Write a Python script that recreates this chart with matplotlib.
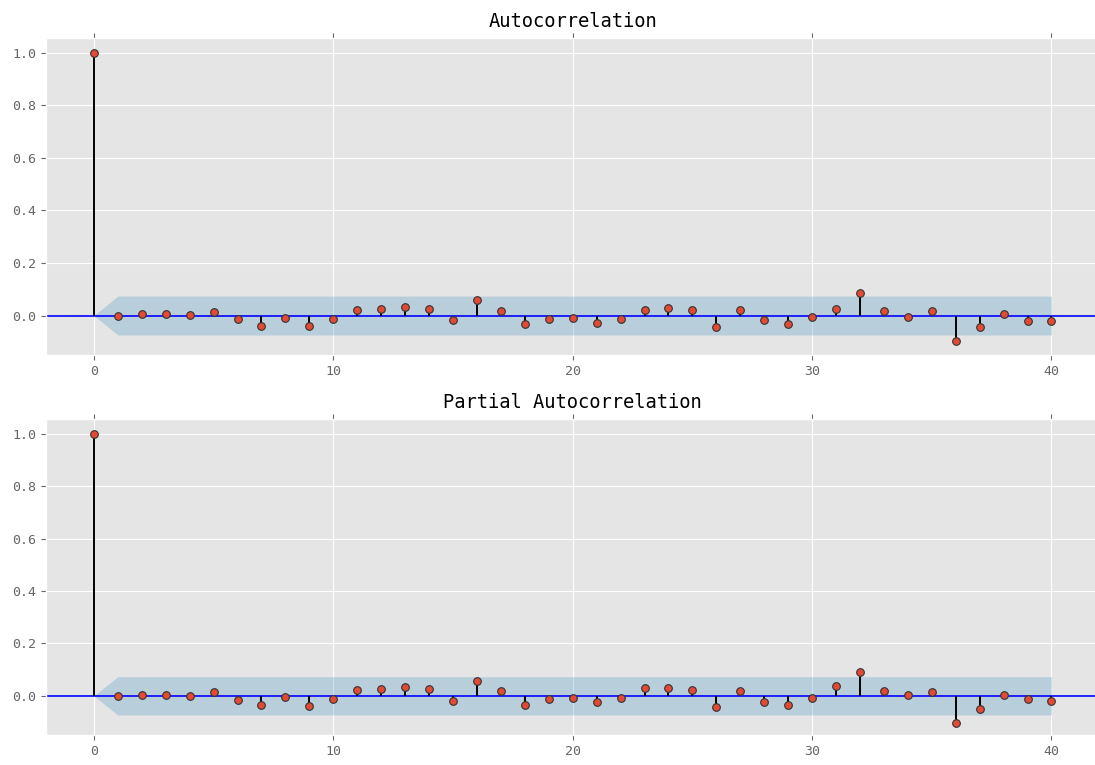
import numpy as np
import matplotlib
matplotlib.use("Agg")
import matplotlib.pyplot as plt

plt.style.use("ggplot")
plt.rcParams['font.family'] = ['DejaVu Sans Mono', 'DejaVu Sans']

lags = np.arange(41)

# autocorrelation values
acf_vals = [1.0, 0.000, 0.004, 0.004, 0.001, 0.013, -0.014, -0.039, -0.009, -0.039,
            -0.013, 0.021, 0.025, 0.034, 0.025, -0.018, 0.059, 0.016, -0.034, -0.014,
            -0.009, -0.029, -0.013, 0.021, 0.030, 0.021, -0.043, 0.021, -0.018, -0.034,
            -0.005, 0.025, 0.086, 0.016, -0.005, 0.016, -0.095, -0.043, 0.005, -0.020,
            -0.020]

# partial autocorrelation values
pacf_vals = [1.0, 0.000, 0.005, 0.004, 0.001, 0.013, -0.014, -0.034, -0.005, -0.039,
             -0.013, 0.022, 0.025, 0.034, 0.025, -0.018, 0.056, 0.017, -0.034, -0.013,
             -0.009, -0.025, -0.008, 0.030, 0.030, 0.021, -0.043, 0.018, -0.025, -0.034,
             -0.009, 0.036, 0.092, 0.018, 0.005, 0.014, -0.103, -0.052, 0.005, -0.013,
             -0.018]

# confidence band half width (zero at lag 0)
acf_band = [0.0] + [0.074] * 40
pacf_band = [0.0] + [0.073] * 40

titles = ["Autocorrelation", "Partial Autocorrelation"]

fig = plt.figure(figsize=(10.95, 7.65), dpi=100)
ax1 = fig.add_axes([0.042, 0.536, 0.962, 0.414])
ax2 = fig.add_axes([0.042, 0.039, 0.962, 0.413])

for ax, vals, band, title in zip([ax1, ax2], [acf_vals, pacf_vals],
                                 [acf_band, pacf_band], titles):
    vals = np.array(vals)
    band = np.array(band)
    ax.vlines(lags, 0, vals, color="black", lw=1.4, zorder=3)
    ax.plot(lags, vals, "o", markersize=5.5, markerfacecolor="#E24A33",
            markeredgecolor="#333333", markeredgewidth=0.8, zorder=4)
    ax.axhline(0, color="blue", lw=1.2, zorder=2)
    ax.fill_between(lags, -band, band, color="#348ABD", alpha=0.25, lw=0, zorder=1)
    ax.set_xlim(-2, 42)
    ax.set_ylim(-0.15, 1.055)
    ax.set_xticks([0, 10, 20, 30, 40])
    ax.set_yticks([0.0, 0.2, 0.4, 0.6, 0.8, 1.0])
    ax.tick_params(labelsize=9.5, colors="#666666", top=True, right=True,
                   labelcolor="#666666")
    ax.set_title(title, fontsize=13.5, color="black", pad=8)

fig.savefig("out.png", dpi=100)
